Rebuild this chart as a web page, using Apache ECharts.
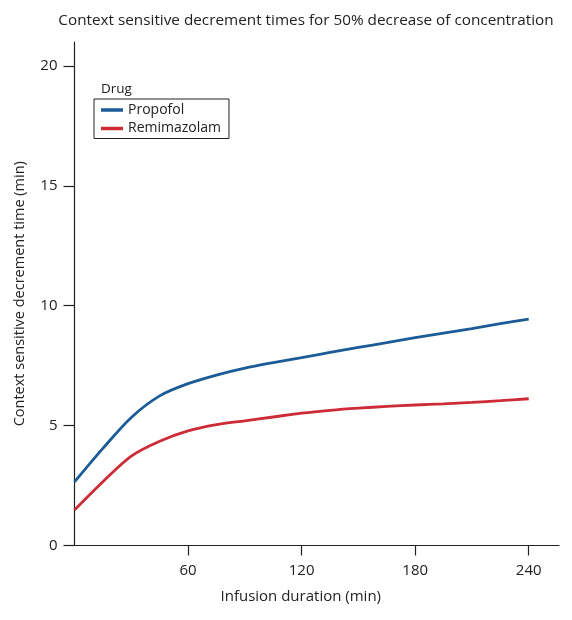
<!DOCTYPE html>
<html>
<head>
<meta charset="utf-8">
<script src="https://cdn.jsdelivr.net/npm/echarts@6/dist/echarts.min.js"></script>
<style>
html,body{margin:0;padding:0;background:#fff;}
#chart{width:572px;height:620px;}
</style>
</head>
<body>
<div id="chart"></div>
<script>
var times = [0, 15, 30, 45, 60, 75, 90, 105, 120, 135, 150, 165, 180, 195, 210, 225, 240];
var propofol = [2.65, 4.05, 5.34, 6.24, 6.75, 7.11, 7.40, 7.63, 7.84, 8.05, 8.26, 8.46, 8.67, 8.86, 9.05, 9.25, 9.44];
var remimazolam = [1.48, 2.66, 3.73, 4.35, 4.78, 5.04, 5.20, 5.36, 5.52, 5.64, 5.73, 5.80, 5.86, 5.91, 5.97, 6.04, 6.12];
var xTicks = [60, 120, 180, 240];
var yTicks = [0, 5, 10, 15, 20];

var FONT = 'Open Sans';
function pairs(xs, ys){ return xs.map(function(x,i){ return [x, ys[i]]; }); }

var chart = echarts.init(document.getElementById('chart'), null, {renderer:'canvas'});
chart.setOption({
  animation: false,
  backgroundColor: '#fff',
  title: [{
    text: 'Context sensitive decrement times for 50% decrease of concentration',
    left: 301, top: 8, textAlign: 'center',
    textStyle: {fontFamily: FONT, fontSize: 15.3, fontWeight: 'normal', color: '#222'}
  },{
    text: 'Drug',
    left: 96, top: 77,
    textStyle: {fontFamily: FONT, fontSize: 13.5, fontWeight: 'normal', color: '#222'}
  }],
  legend: {
    orient: 'vertical', left: 94, top: 99,
    backgroundColor: '#fff', borderColor: '#222', borderWidth: 1,
    padding: [4, 8, 3, 7], itemGap: 4.5,
    icon: 'rect', itemWidth: 22, itemHeight: 3.5,
    textStyle: {fontFamily: FONT, fontSize: 14, color: '#222', padding: [0,0,0,0]},
    data: ['Propofol', 'Remimazolam']
  },
  grid: {left: 74.5, right: 13, top: 42, bottom: 74.5, containLabel: false},
  xAxis: {
    type: 'value', min: 0, max: 256,
    name: 'Infusion duration (min)', nameLocation: 'middle', nameGap: 44,
    nameTextStyle: {fontFamily: FONT, fontSize: 15, color: '#222', padding: [0, 32, 0, 0]},
    axisLine: {show: true, lineStyle: {color: '#222', width: 1.2}},
    axisTick: {show: true, length: 10, lineStyle: {color: '#222', width: 1.2},
      customValues: xTicks},
    axisLabel: {fontFamily: FONT, fontSize: 15, color: '#222', margin: 18,
      customValues: xTicks},
    splitLine: {show: false}
  },
  yAxis: {
    type: 'value', min: 0, max: 21,
    name: 'Context sensitive decrement time (min)', nameLocation: 'middle', nameGap: 47,
    nameTextStyle: {fontFamily: FONT, fontSize: 14.5, color: '#222'},
    axisLine: {show: true, lineStyle: {color: '#222', width: 1.2}},
    axisTick: {show: true, length: 11, lineStyle: {color: '#222', width: 1.2},
      customValues: yTicks},
    axisLabel: {fontFamily: FONT, fontSize: 15, color: '#222', margin: 17,
      customValues: yTicks},
    splitLine: {show: false}
  },
  series: [{
    name: 'Propofol', type: 'line', smooth: 0.3, showSymbol: false, symbol: 'none',
    data: pairs(times, propofol),
    color: '#1b5b98',
    lineStyle: {color: '#1b5b98', width: 2.8}
  },{
    name: 'Remimazolam', type: 'line', smooth: 0.3, showSymbol: false, symbol: 'none',
    data: pairs(times, remimazolam),
    color: '#cc2b37',
    lineStyle: {color: '#cc2b37', width: 2.8}
  }]
});
</script>
</body>
</html>
